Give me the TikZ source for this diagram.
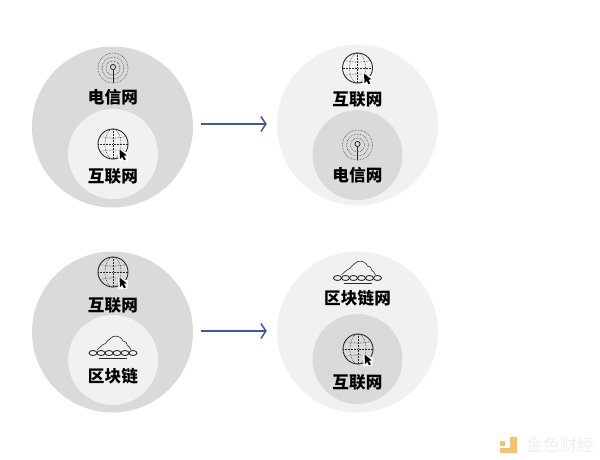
\documentclass[tikz,border=0pt]{standalone}
\usepackage{fontspec}
\setmainfont[LetterSpace=1]{Noto Sans CJK SC}
\usetikzlibrary{arrows.meta}
\definecolor{discdark}{HTML}{DADADA}
\definecolor{disclight}{HTML}{F1F1F1}
\definecolor{arrowblue}{HTML}{4355A5}
\definecolor{iconink}{HTML}{2A2A2A}
\definecolor{markgold}{HTML}{F2C26F}
\definecolor{markgrey}{HTML}{EFEFEF}
\tikzset{
  disc/.style={circle,inner sep=0pt,minimum size=#1},
  caption/.style={font=\fontsize{16.6}{18}\selectfont\bfseries,text=black,inner sep=0pt},
  flowarrow/.style={draw=arrowblue,line width=1.5pt,-{Straight Barb[length=5pt,width=15pt,line width=1.5pt]}},
  dotline/.style={iconink,line width=0.55pt,densely dotted},
  globeicon/.pic={
    \draw[dotline] (-15,0)--(15,0);
    \draw[dotline] (0,-15)--(0,15);
    \draw[dotline] (0,0) ellipse (8 and 15);
    \draw[dotline] (-13,-7.5) to[bend right=12] (13,-7.5);
    \draw[dotline] (-13,7.5) to[bend left=12] (13,7.5);
    \draw[iconink,line width=0.9pt] (0,0) circle (15);
    \fill[white] (5,5) -- (5.5,17) -- (14,17) -- (15.5,9) -- cycle;
    \fill[black] (6.5,5.5)--(7,15)--(9.2,12.8)--(11,16.3)--(12.8,15.3)--(11,11.8)--(13.8,11.3)--cycle;
  },
  antennaicon/.pic={
    \draw[dotline] (0,0) circle (15);
    \draw[dotline] (0,0) circle (11);
    \draw[dotline] (0,0) circle (7);
    \draw[iconink,line width=0.8pt] (0,-1) circle (2.6);
    \draw[iconink,line width=0.9pt] (0,1.6)--(0,14.5);
  },
  chainicon/.pic={
    \draw[iconink,line width=0.6pt] (-16,-3) .. controls (-12,-7) and (-10,-9) .. (-7,-10)
      .. controls (-6,-13) and (-2,-14) .. (0,-16.5) .. controls (5,-18) and (9,-15) .. (10,-12)
      .. controls (13,-12) and (14,-10) .. (14,-8) .. controls (16,-7) and (17,-5) .. (18,-3);
    \draw[iconink,line width=0.4pt] (-14,5.5)--(14,5.5);
    \foreach \linkx in {-20,-12,-4,4,12,20}{
      \draw[iconink,line width=0.9pt] (\linkx,0) ellipse (4 and 2.5);
    }
  }
}
\begin{document}
\begin{tikzpicture}[x=1pt,y=-1pt]
\useasboundingbox[fill=white] (0,0) rectangle (600,459);
% top row
\node[disc=161pt,fill=discdark] (outerA) at (112.5,127) {};
\node[disc=90pt,fill=disclight] (innerA) at (113,154) {};
\node[disc=161pt,fill=disclight] (outerB) at (357.5,125) {};
\node[disc=90pt,fill=discdark] (innerB) at (357.5,155) {};
\pic at (113,68) {antennaicon};
\pic at (113,144) {globeicon};
\pic at (357.5,68) {globeicon};
\pic at (357.5,145) {antennaicon};
\node[caption] (telA) at (113,97) {电信网};
\node[caption] (netA) at (113,176) {互联网};
\node[caption] (netB) at (357.5,99) {互联网};
\node[caption] (telB) at (357.5,175) {电信网};
% bottom row
\node[disc=161pt,fill=discdark] (outerC) at (112.5,332) {};
\node[disc=90pt,fill=disclight] (innerC) at (113,360) {};
\node[disc=161pt,fill=disclight] (outerD) at (357.5,332) {};
\node[disc=90pt,fill=discdark] (innerD) at (357.5,359) {};
\pic at (113,272) {globeicon};
\pic at (113,353) {chainicon};
\pic at (357.5,278) {chainicon};
\pic at (358,349) {globeicon};
\node[caption] (netC) at (113,305) {互联网};
\node[caption] (chainC) at (113,376) {区块链};
\node[caption] (chainD) at (357.5,298) {区块链网};
\node[caption] (netD) at (357.5,382) {互联网};
% arrows
\draw[flowarrow] ([xshift=8pt,yshift=3pt]outerA.east)--([xshift=-10pt,yshift=1pt]outerB.west);
\draw[flowarrow] ([xshift=8pt,yshift=1pt]outerC.east)--([xshift=-10pt,yshift=1pt]outerD.west);
% corner mark
\fill[markgold] (500,446)--(505,446)--(505,441)--(500,441)--cycle;
\fill[markgold] (510,437)--(517,437)--(517,453)--(500,453)--(500,448)--(510,448)--cycle;
\node[text=markgrey,font=\fontsize{17}{18}\selectfont,inner sep=0pt] (markname) at (560,445) {金色财经};
\end{tikzpicture}
\end{document}
